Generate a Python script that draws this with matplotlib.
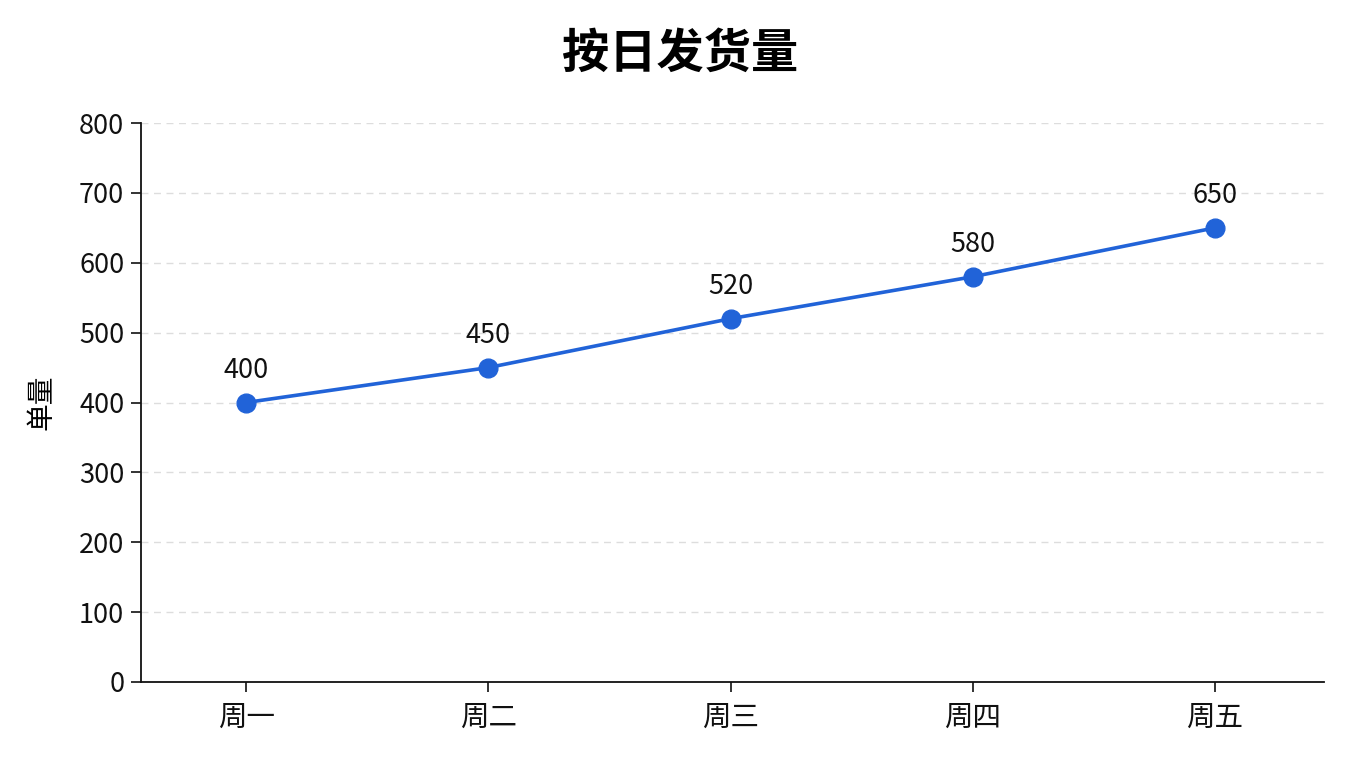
import matplotlib
matplotlib.use("Agg")
import matplotlib.pyplot as plt

plt.rcParams['font.family'] = ['Noto Sans CJK SC', 'DejaVu Sans']

days = ["周一", "周二", "周三", "周四", "周五"]
orders = [400, 450, 520, 580, 650]
yticks = [0, 100, 200, 300, 400, 500, 600, 700, 800]

fig = plt.figure(figsize=(13.6, 7.68), dpi=100)
ax = fig.add_axes([0.1037, 0.112, 0.8698, 0.7278])

x = list(range(len(days)))
ax.plot(x, orders, color="#2163d8", linewidth=2.6, marker="o", markersize=13.5, zorder=3)
for xi, v in zip(x, orders):
    ax.annotate(f"{v}", (xi, v), xytext=(0, 23), textcoords="offset points",
                ha="center", va="center", fontsize=19.5, color="#111111")

ax.set_xlim(-0.434, 4.45)
ax.set_ylim(0, 800)
ax.set_yticks(yticks)
ax.set_xticks(x)
ax.set_xticklabels(days, fontsize=20.5)
ax.tick_params(axis="y", labelsize=19.5, length=7, width=1.2, colors="#111111", pad=5)
ax.tick_params(axis="x", length=7, width=1.2, colors="#111111", pad=8)
ax.grid(axis="y", linestyle=(0, (5, 4)), color="#dddddd", linewidth=1.0)
ax.set_axisbelow(True)
for s in ["top", "right"]:
    ax.spines[s].set_visible(False)
for s in ["left", "bottom"]:
    ax.spines[s].set_linewidth(1.3)
    ax.spines[s].set_color("#111111")

ax.set_ylabel("单量", fontsize=20, labelpad=16)
fig.suptitle("按日发货量", fontsize=34, fontweight="bold", y=0.93, x=0.5, va="center")

fig.savefig("out.png", dpi=100, facecolor="white")
